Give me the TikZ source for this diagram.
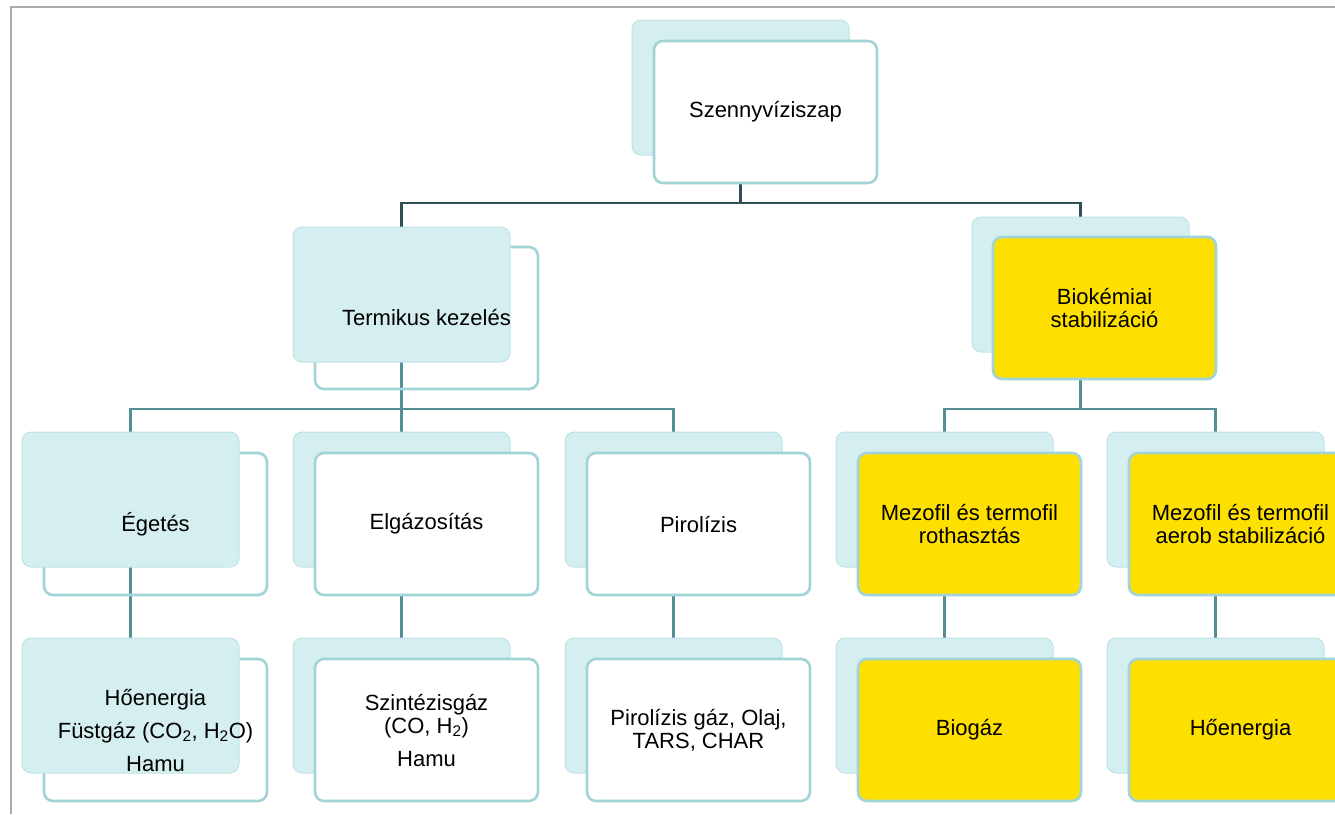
\documentclass[tikz,border=0pt]{standalone}
\usepackage{fontspec}
\setmainfont{Liberation Sans}
\pgfdeclarelayer{bg}
\pgfsetlayers{bg,main}
\definecolor{tealfill}{HTML}{D5EEF0}
\definecolor{tealedge}{HTML}{BFE3E6}
\definecolor{tealline}{HTML}{A2D3D7}
\definecolor{gold}{HTML}{FDE000}
\definecolor{darkconn}{HTML}{2E5055}
\definecolor{lightconn}{HTML}{558F95}
\definecolor{framegray}{HTML}{ABABAB}
\begin{document}
\begin{tikzpicture}[x=1pt,y=-1pt,
 card/.style={rectangle, rounded corners=9pt, anchor=north west, inner sep=0pt, outer sep=0pt},
 cardA/.style={card, minimum width=217pt, minimum height=135pt, fill=tealfill, draw=tealedge, line width=1pt},
 cardB/.style={card, minimum width=223pt, minimum height=142pt, draw=tealline, line width=2.6pt},
 cardW/.style={cardB, fill=white},
 cardY/.style={cardB, fill=gold},
 cardO/.style={cardB},
 lbl/.style={align=center, font=\fontsize{22}{23}\selectfont, inner sep=0pt, text=black},
 conn/.style={draw=lightconn, line width=2.8pt},
 dconn/.style={draw=darkconn, line width=2.8pt},
 framel/.style={draw=framegray, line width=2pt}
]
\useasboundingbox (0,0) rectangle (1335,814);
\clip (0,0) rectangle (1335,814);
\draw[framel] (11,814) -- (11,7) -- (1335,7);

% root
\node[cardA] (rootA) at (632,20) {};
\node[cardW] (rootB) at (654,41) {};
% level 2
\node[cardO] (termB) at (315,247) {};
\node[cardA] (termA) at (293,227) {};
\node[cardA] (bioA) at (972,217) {};
\node[cardY] (bioB) at (993,237) {};
% level 3
\node[cardO] (egB) at (44,453) {};
\node[cardA] (egA) at (22,432) {};
\node[cardA] (elgA) at (293,432) {};
\node[cardW] (elgB) at (315,453) {};
\node[cardA] (pirA) at (565,432) {};
\node[cardW] (pirB) at (587,453) {};
\node[cardA] (mezaA) at (836,432) {};
\node[cardY] (mezaB) at (858,453) {};
\node[cardA] (mezbA) at (1107,432) {};
\node[cardY] (mezbB) at (1129,453) {};
% level 4
\node[cardO] (hoeaB) at (44,659) {};
\node[cardA] (hoeaA) at (22,638) {};
\node[cardA] (sziA) at (293,638) {};
\node[cardW] (sziB) at (315,659) {};
\node[cardA] (pgA) at (565,638) {};
\node[cardW] (pgB) at (587,659) {};
\node[cardA] (biogA) at (836,638) {};
\node[cardY] (biogB) at (858,659) {};
\node[cardA] (hoebA) at (1107,638) {};
\node[cardY] (hoebB) at (1129,659) {};

% labels
\node[lbl] (rootT) at (rootB.center) {Szennyvíziszap};
\node[lbl] (termT) at (termB.center) {Termikus kezelés};
\node[lbl] (bioT) at (bioB.center) {Biokémiai\\stabilizáció};
\node[lbl] (egT) at (egB.center) {Égetés};
\node[lbl] (elgT) at (elgB.center) {Elgázosítás};
\node[lbl] (pirT) at (pirB.center) {Pirolízis};
\node[lbl] (mezaT) at (mezaB.center) {Mezofil és termofil\\rothasztás};
\node[lbl] (mezbT) at (mezbB.center) {Mezofil és termofil\\aerob stabilizáció};
\node[lbl] (hoeaT) at (hoeaB.center) {Hőenergia\\[10pt]Füstgáz (CO\textsubscript{2}, H\textsubscript{2}O)\\[10pt]Hamu};
\node[lbl] (sziT) at (sziB.center) {Szintézisgáz\\(CO, H\textsubscript{2})\\[10pt]Hamu};
\node[lbl] (pgT) at (pgB.center) {Pirolízis gáz, Olaj,\\TARS, CHAR};
\node[lbl] (biogT) at (biogB.center) {Biogáz};
\node[lbl] (hoebT) at (hoebB.center) {Hőenergia};

% connectors
\begin{pgfonlayer}{bg}
\coordinate (bus1) at (0,203);
\coordinate (bus2) at (0,409);
\draw[dconn] (rootA.center) -- (rootA.center |- bus1) -| (termA.north);
\draw[dconn] (rootA.center |- bus1) -| (bioA.north);
\draw[conn] (termA.center) -- (termA.center |- bus2) -| (egA.north);
\draw[conn] (termA.center |- bus2) -| (pirA.north);
\draw[conn] (termA.center |- bus2) -- (elgA.north);
\draw[conn] (bioA.center) -- (bioA.center |- bus2) -| (mezaA.north);
\draw[conn] (bioA.center |- bus2) -| (mezbA.north);
\draw[conn] (egA.center) -- (hoeaA.north);
\draw[conn] (elgA.center) -- (sziA.north);
\draw[conn] (pirA.center) -- (pgA.north);
\draw[conn] (mezaA.center) -- (biogA.north);
\draw[conn] (mezbA.center) -- (hoebA.north);
\end{pgfonlayer}
\end{tikzpicture}
\end{document}
